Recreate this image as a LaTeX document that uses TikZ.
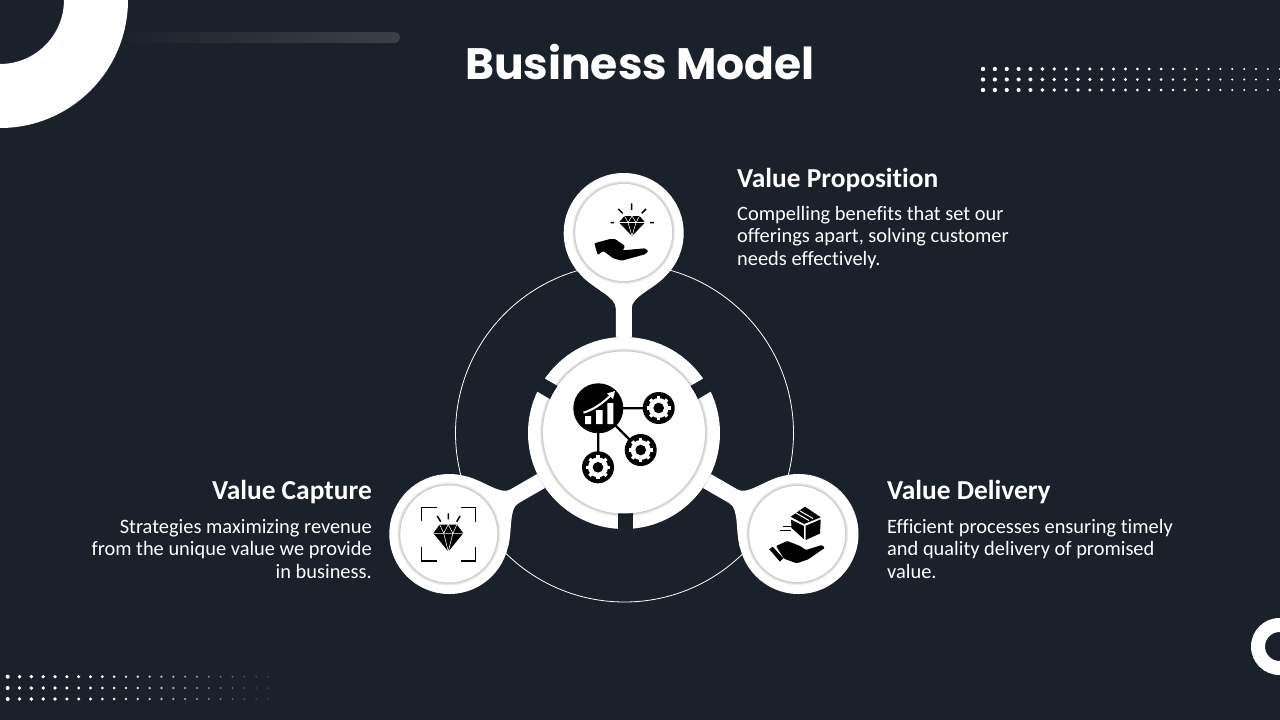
\documentclass[tikz,border=0pt]{standalone}
\usepackage{fontspec}
\usepackage{xcolor}
\usetikzlibrary{positioning, calc}
\setmainfont{Carlito}[Ligatures=NoCommon]
\newfontfamily\titlefont{Poppins}
\definecolor{slidebg}{HTML}{1A212A}
\definecolor{barend}{HTML}{3A4148}
\tikzset{
  headtext/.style={anchor=north west,inner sep=0pt,text=white,font=\fontsize{27.4}{31}\selectfont\bfseries},
  bodytext/.style={anchor=north west,inner sep=0pt,text=white,align=left,font=\fontsize{20.4}{22.5}\selectfont},
  ringnode/.style={circle,fill=white,inner sep=0pt,outer sep=0pt,minimum size=192pt},
  bubble/.style={circle,fill=white,inner sep=0pt,outer sep=0pt,minimum size=120pt},
  disc/.style={circle,fill=white,inner sep=0pt,outer sep=0pt},
  stemline/.style={draw=white,line width=16pt},
  gapline/.style={draw=slidebg,line width=15pt},
  orbit/.style={draw=white,line width=0.8pt},
  iconline/.style={draw=black,line width=1.5pt},
  pics/gemicon/.style={code={
    \fill[black] (-7.5,-10) -- (7.5,-10) -- (13,-3.5) -- (0,10) -- (-13,-3.5) -- cycle;
    \draw[white,line width=0.55pt] (-13,-3.5) -- (13,-3.5)
      (-7.5,-10) -- (-4,-3.5) -- (0,-10) -- (4,-3.5) -- (7.5,-10)
      (-4,-3.5) -- (0,10) -- (4,-3.5);
  }},
  pics/gearicon/.style={code={
    \fill[black] (0,0) circle (16pt);
    \fill[white] (0,0) circle (10pt);
    \foreach \a in {0,45,...,315}
      \draw[white,line width=3.4pt] (\a:8pt) -- (\a:12pt);
    \fill[black] (0,0) circle (5.3pt);
  }},
}

\begin{document}
\begin{tikzpicture}[x=1pt,y=-1pt]
  \useasboundingbox (0,0) rectangle (1280,720);
  \fill[slidebg] (0,0) rectangle (1280,720);

  % corners and bar
  \shade[left color=slidebg,right color=barend,rounded corners=5pt] (118,32) rectangle (400,43);
  \fill[white,even odd rule] (0,0) circle (128pt) (0,0) circle (64pt);
  \fill[white,even odd rule] (1279.5,646.5) circle (28.5pt) (1279.5,646.5) circle (14.5pt);

  % dots
  \foreach \row in {69,79.5,90}
    \foreach \i in {0,...,25}
      \fill[white] ({983+11.87*\i},\row) circle ({(2.2-0.05*\i)*1pt});
  \foreach \row in {676.7,688,699}
    \foreach \i in {0,...,22} {
      \pgfmathsetmacro{\shadeval}{max(12,100-4.6*max(\i-7,0)*1.15)}
      \fill[white!\shadeval!slidebg] ({7.7+11.83*\i},\row) circle ({(2-0.055*\i)*1pt});
    }

  \node[font=\titlefont\fontsize{44}{50}\selectfont\bfseries,text=white,inner sep=0pt] (title) at (640,62.5) {Business Model};

  % wheel
  \draw[orbit] (624.5,433) circle (169pt);
  \node[ringnode] (hub) at (624,433) {};
  \node[bubble] (prop) at (623.7,233) {};
  \node[bubble] (deli) at (798.5,534) {};
  \node[bubble] (capt) at (449.3,534) {};

  \foreach \nm/\ang in {prop/-90,deli/150,capt/30} {
    \draw[stemline] (hub) -- (\nm);
    \begin{scope}[shift={(\nm.center)},rotate=\ang]
      \fill[white] (44,41) .. controls (57,28) and (64,8) .. (75,8) -- (75,-8)
        .. controls (64,-8) and (57,-28) .. (44,-41) -- cycle;
    \end{scope}
  }
  \foreach \ang in {150,30}
    \draw[gapline] (hub.center) -- ++(\ang:100pt);
  \draw[gapline] (625.5,433) -- ++(0,100);

  \foreach \nm/\cx/\cy/\rr in {hubdisc/624/432.5/81,propdisc/623.7/232.5/48.5,delidisc/797.2/534/48,captdisc/448.8/534/48.5} {
    \foreach \k in {1,...,3}
      \fill[black,opacity=0.07] (\cx,\cy) circle ({(\rr+\k)*1pt});
    \node[disc,minimum size={2*\rr*1pt}] (\nm) at (\cx,\cy) {};
  }

  % hub icon
  \fill[black] (598.3,408.3) circle (25pt);
  \draw[black,line width=2.3pt] (620,408.3) -- (645,408.3)
    (615,425) -- (630,440) (598.3,430) -- (598.3,455);
  \pic at (658.7,408) {gearicon};
  \pic at (640.7,450) {gearicon};
  \pic at (598,467.3) {gearicon};
  \fill[white] (585,416) rectangle (591,424) (596,410) rectangle (602.7,424) (607.3,403) rectangle (613.3,424);
  \draw[white,line width=2pt] (583.5,412.7) .. controls (595,409) and (604,402) .. (611,395);
  \fill[white] (615,391) -- (613,399) -- (607,393.5) -- cycle;

  % value proposition icon
  \pic[scale=1] at (632,226) {gemicon};
  \draw[iconline] (631.7,203.3) -- (631.7,210) (618.3,209) -- (622.7,213.3) (646,209) -- (641.7,213.3)
    (610.7,222.7) -- (614,222.7) (650,222.7) -- (654,222.7);
  \fill[black,rounded corners=1pt] (594.3,243.3) -- (610,239) -- (615,239) -- (625,246) -- (622.7,250.3)
    -- (645,248.3) -- (648.3,251) -- (645,254.3) -- (621.7,260.7) -- (613.3,258.3) -- (603.3,251) -- (597.7,255) -- cycle;

  % value capture icon
  \pic[xscale=1.15,yscale=1.35] at (448.3,538) {gemicon};
  \draw[iconline] (448.3,513.3) -- (448.3,519.3) (437.3,516) -- (440.7,521.7) (460,516) -- (456.7,521.7);
  \draw[iconline] (436.7,507.7) -- (421.7,507.7) -- (421.7,521) (460.7,507.7) -- (475.7,507.7) -- (475.7,521.7)
    (421.7,546.7) -- (421.7,561) -- (436.7,561) (475.7,546.7) -- (475.7,561) -- (460.7,561);

  % value delivery icon
  \fill[black] (805,506.7) -- (820.7,517.3) -- (804,524) -- (790.7,516.7) -- cycle;
  \fill[black] (805.7,525.8) -- (820.7,519.3) -- (820,533.5) -- (805.7,540) -- cycle;
  \fill[black] (803.8,526) -- (791,519.5) -- (791.5,528) -- (803.8,539) -- cycle;
  \draw[white,line width=1pt] (796,513) -- (809,520.5) (800,511) -- (813,518.5);
  \draw[iconline,line width=1.2pt] (780,530.7) -- (791,530.7) (783.3,526.7) -- (791.7,526.7);
  \fill[black] (769.3,549.3) -- (772.7,546.7) -- (783.3,558.3) -- (780,561.7) -- cycle;
  \fill[black,rounded corners=1pt] (776,546) -- (787.3,541) -- (800,546) -- (806,550) -- (821.7,545) -- (825,547.7)
    -- (808.3,559.3) -- (796.7,563.3) -- (784,558.7) -- cycle;

  % texts
  \node[headtext] (prophead) at (737,168) {Value Proposition};
  \node[bodytext] (propbody) at (737,206) {Compelling benefits that set our\\offerings apart, solving customer\\needs effectively.};
  \node[headtext] (delihead) at (887,480) {Value Delivery};
  \node[bodytext] (delibody) at (887,519) {Efficient processes ensuring timely\\and quality delivery of promised\\value.};
  \node[headtext,anchor=north east] (capthead) at (372,480) {Value Capture};
  \node[bodytext,anchor=north east,align=right] (captbody) at (372,519) {Strategies maximizing revenue\\from the unique value we provide\\in business.};
\end{tikzpicture}
\end{document}
